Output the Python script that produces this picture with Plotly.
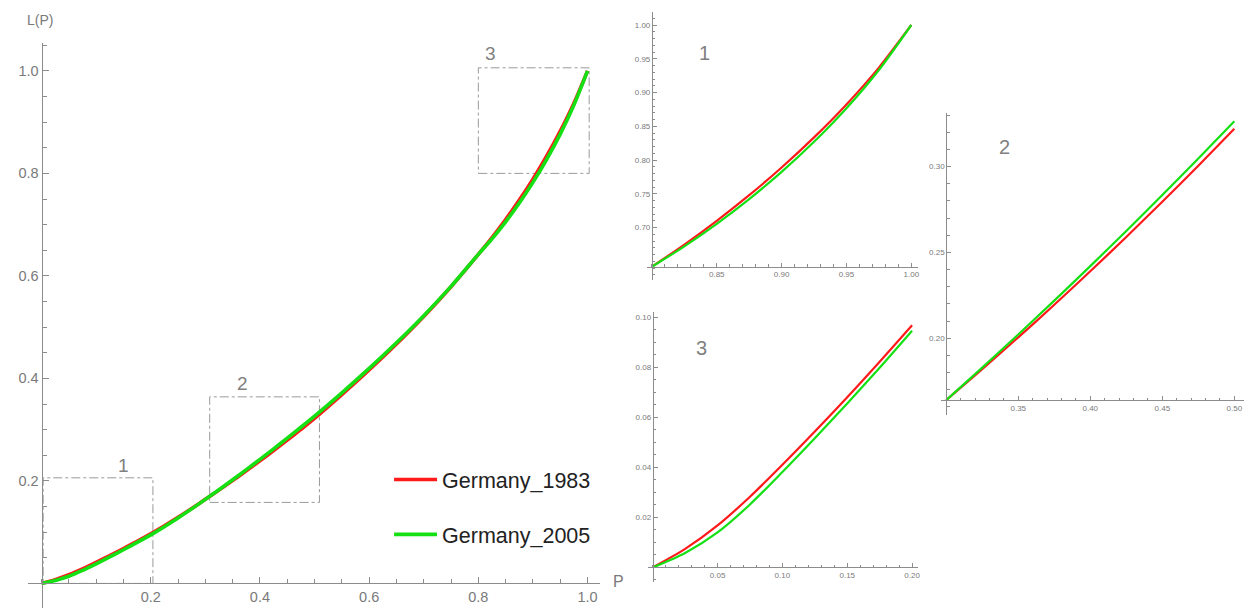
import plotly.graph_objects as go

# ---------------- data ----------------
P = [0, 0.025, 0.05, 0.075, 0.1, 0.125, 0.15, 0.175, 0.2, 0.225, 0.25, 0.275,
     0.3, 0.325, 0.35, 0.375, 0.4, 0.425, 0.45, 0.475, 0.5, 0.55, 0.6, 0.65,
     0.7, 0.75, 0.8, 0.825, 0.85, 0.875, 0.9, 0.925, 0.95, 0.975, 1.0]
L_1983 = [0, 0.0074, 0.0168, 0.0283, 0.0411, 0.0544, 0.0681, 0.0823, 0.0969,
          0.1125, 0.1289, 0.1461, 0.164, 0.182, 0.2005, 0.2195, 0.239, 0.259,
          0.2795, 0.3005, 0.322, 0.3683, 0.4165, 0.4671, 0.5209, 0.5789, 0.642,
          0.6748, 0.7100, 0.7479, 0.7889, 0.8335, 0.8824, 0.9369, 1.0]
L_2005 = [0, 0.0058, 0.0140, 0.0252, 0.0382, 0.0517, 0.0656, 0.0799, 0.0947,
          0.1107, 0.1277, 0.1454, 0.164, 0.1829, 0.2022, 0.2219, 0.242, 0.2625,
          0.2834, 0.3047, 0.3264, 0.3719, 0.4194, 0.4694, 0.5224, 0.5795, 0.642,
          0.6722, 0.7055, 0.7421, 0.7824, 0.8270, 0.8767, 0.9334, 1.0]
series_names = ["Germany_1983", "Germany_2005"]

main_ticks = [0.2, 0.4, 0.6, 0.8, 1.0]
main_ticklabels = ["0.2", "0.4", "0.6", "0.8", "1.0"]

# zoom boxes drawn on the main plot
box_x = [(0.003, 0.204), (0.308, 0.509), (0.800, 1.003)]
box_y = [(0.0, 0.206), (0.158, 0.364), (0.800, 1.006)]
box_labels = ["1", "2", "3"]

# insets: x window, tick values
inset_xwin = [(0.8, 1.0), (0.3, 0.5), (0.0, 0.2)]
inset_xticks = [[0.85, 0.90, 0.95, 1.00], [0.35, 0.40, 0.45, 0.50], [0.05, 0.10, 0.15, 0.20]]
inset_yticks = [[0.70, 0.75, 0.80, 0.85, 0.90, 0.95, 1.00], [0.20, 0.25, 0.30],
                [0.02, 0.04, 0.06, 0.08, 0.10]]
inset_labels = ["1", "2", "3"]

# ---------------- layout geometry (pixels) ----------------
W, H = 1247, 608
RED = "#ff1a1a"
GREEN = "#14e014"
AX = "#8c8c8c"
LBL = "#7a7a7a"
FONT = "Liberation Sans, Arial, sans-serif"

# panel: pixel box (left, right, top, bottom), data ranges, crossing point
panels = [
    dict(px=(28.5, 601.0), py=(42.7, 608.0), xr=(-0.024, 1.022), yr=(-0.048, 1.055), cross=(0.0, 0.0)),
    dict(px=(648.3, 920.0), py=(11.7, 280.0), xr=(0.796, 1.005), yr=(0.6223, 1.0197), cross=(0.8, 0.642)),
    dict(px=(943.3, 1247.0), py=(113.3, 415.0), xr=(0.2964, 0.5067), yr=(0.1553, 0.3310), cross=(0.3, 0.164)),
    dict(px=(650.0, 920.0), py=(311.7, 581.7), xr=(-0.0033, 0.2044), yr=(-0.0057, 0.1023), cross=(0.0, 0.0)),
]

fig = go.Figure()

def interp_pos(d, r, v):
    return d[0] + (v - r[0]) / (r[1] - r[0]) * (d[1] - d[0])

for i, pn in enumerate(panels):
    xd = [pn["px"][0] / W, pn["px"][1] / W]
    yd = [1 - pn["py"][1] / H, 1 - pn["py"][0] / H]
    xpos = interp_pos(yd, pn["yr"], pn["cross"][1])
    ypos = interp_pos(xd, pn["xr"], pn["cross"][0])
    sfx = "" if i == 0 else str(i + 1)
    main = i == 0
    if main:
        xt, xtt = main_ticks, main_ticklabels
        yt, ytt = main_ticks, main_ticklabels
        fs, tl, mtl, mdx, mdy = 14.5, 6, 4, 0.05, 0.05
    else:
        k = i - 1
        xt = inset_xticks[k]; xtt = ["%.2f" % v for v in xt]
        yt = inset_yticks[k]; ytt = ["%.2f" % v for v in yt]
        fs, tl, mtl = 8, 4, 2.5
        mdx = 0.01
        mdy = 0.005 if k == 2 else 0.01
    common = dict(showgrid=False, zeroline=False, showline=True, linecolor=AX, linewidth=1,
                  ticks="inside", tickcolor=AX, ticklen=tl, tickwidth=1, tickmode="array",
                  tickfont=dict(family=FONT, size=fs, color=LBL), fixedrange=True)
    fig.layout["xaxis" + sfx] = dict(common, domain=xd, range=list(pn["xr"]), anchor="free",
                                     position=xpos, tickvals=xt, ticktext=xtt,
                                     minor=dict(ticks="inside", ticklen=mtl, tickcolor=AX,
                                                tickmode="linear", tick0=0, dtick=mdx, showgrid=False))
    fig.layout["yaxis" + sfx] = dict(common, domain=yd, range=list(pn["yr"]), anchor="free",
                                     position=ypos, tickvals=yt, ticktext=ytt,
                                     minor=dict(ticks="inside", ticklen=mtl, tickcolor=AX,
                                                tickmode="linear", tick0=0, dtick=mdy, showgrid=False))

    if main:
        xs, r, g = P, L_1983, L_2005
        lw = 3.6
    else:
        lo, hi = inset_xwin[i - 1]
        idx = [j for j, p in enumerate(P) if lo - 1e-9 <= p <= hi + 1e-9]
        xs = [P[j] for j in idx]
        r = [L_1983[j] for j in idx]
        g = [L_2005[j] for j in idx]
        lw = 2.2
    xa = "x" + sfx
    ya = "y" + sfx
    fig.add_trace(go.Scatter(x=xs, y=r, mode="lines",
                             line=dict(color=RED, width=lw, shape="spline", smoothing=0.8),
                             name=series_names[0], showlegend=main, legendgroup="a",
                             xaxis=xa, yaxis=ya, hoverinfo="skip"))
    fig.add_trace(go.Scatter(x=xs, y=g, mode="lines",
                             line=dict(color=GREEN, width=lw, shape="spline", smoothing=0.8),
                             name=series_names[1], showlegend=main, legendgroup="b",
                             xaxis=xa, yaxis=ya, hoverinfo="skip"))

# dash-dot zoom boxes on the main plot
for (x0, x1), (y0, y1) in zip(box_x, box_y):
    fig.add_shape(type="rect", xref="x", yref="y", x0=x0, x1=x1, y0=y0, y1=y1,
                  line=dict(color="#9a9a9a", width=1, dash="dashdot"), layer="below")

annotations = []
box_label_pos = [(0.1494, 0.2299), (0.3675, 0.3906), (0.8223, 1.0345)]
for (bx, by), t in zip(box_label_pos, box_labels):
    annotations.append(dict(x=bx, y=by, xref="x", yref="y", text=t, showarrow=False,
                            xanchor="center", yanchor="middle",
                            font=dict(family=FONT, size=19, color="#808080")))
inset_label_pos = [(0.8404, 0.9581), (0.3407, 0.3112), (0.0379, 0.0879)]
for k, ((lx, ly), t) in enumerate(zip(inset_label_pos, inset_labels)):
    s = str(k + 2)
    annotations.append(dict(x=lx, y=ly, xref="x" + s, yref="y" + s, text=t, showarrow=False,
                            xanchor="center", yanchor="middle",
                            font=dict(family=FONT, size=20, color="#808080")))
# axis names
annotations.append(dict(x=40 / W, y=1 - 20 / H, xref="paper", yref="paper", text="L(P)",
                        xanchor="center", yanchor="middle",
                        showarrow=False, font=dict(family=FONT, size=14, color=LBL)))
annotations.append(dict(x=620 / W, y=1 - 581 / H, xref="paper", yref="paper", text="P",
                        xanchor="center", yanchor="middle",
                        showarrow=False, font=dict(family=FONT, size=16, color=LBL)))

fig.update_layout(
    width=W, height=H, autosize=False,
    margin=dict(l=0, r=0, t=0, b=0, pad=0),
    paper_bgcolor="white", plot_bgcolor="white",
    annotations=annotations,
    showlegend=True,
    legend=dict(x=390 / W, y=1 - 459 / H, xanchor="left", yanchor="top",
                bgcolor="rgba(0,0,0,0)", traceorder="grouped", tracegroupgap=24,
                itemwidth=43, font=dict(family=FONT, size=21.5, color="#222222")),
)

fig.write_html("out.html", config={"displayModeBar": False})
